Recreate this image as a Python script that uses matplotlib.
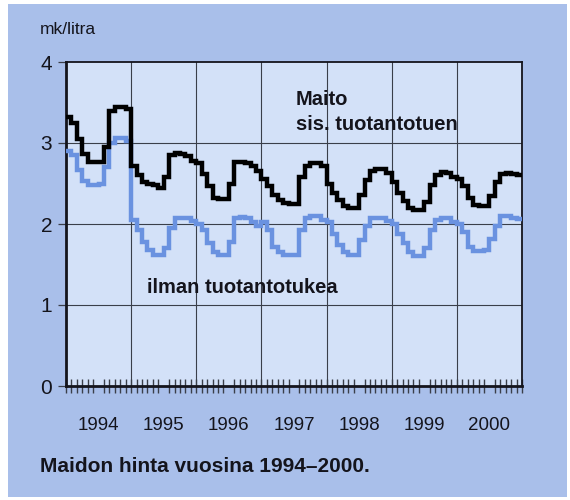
#!/usr/bin/env python3
"""Maidon hinta vuosina 1994-2000 - kuukausittainen porrasviiva"""
import numpy as np
import matplotlib
matplotlib.use('Agg')
import matplotlib.pyplot as plt
from matplotlib.patches import Rectangle

# vuodet ja kuukausihinnat (mk/litra), tammi-joulu
years = ['1994', '1995', '1996', '1997', '1998', '1999', '2000']

maito_tuella = [
    3.32, 3.25, 3.05, 2.87, 2.76, 2.76, 2.76, 2.95, 3.40, 3.45, 3.45, 3.42,
    2.72, 2.60, 2.52, 2.50, 2.48, 2.45, 2.58, 2.85, 2.88, 2.87, 2.84, 2.78,
    2.75, 2.62, 2.47, 2.32, 2.31, 2.31, 2.50, 2.77, 2.77, 2.75, 2.72, 2.65,
    2.56, 2.47, 2.36, 2.30, 2.26, 2.25, 2.25, 2.58, 2.71, 2.75, 2.75, 2.72,
    2.50, 2.38, 2.30, 2.22, 2.20, 2.20, 2.36, 2.54, 2.65, 2.68, 2.68, 2.63,
    2.52, 2.38, 2.28, 2.20, 2.17, 2.17, 2.27, 2.48, 2.60, 2.64, 2.63, 2.58,
    2.55, 2.47, 2.32, 2.23, 2.22, 2.22, 2.35, 2.52, 2.62, 2.63, 2.62, 2.60,
]

maito_ilman = [
    2.90, 2.85, 2.67, 2.53, 2.48, 2.48, 2.50, 2.70, 3.00, 3.06, 3.06, 3.02,
    2.05, 1.92, 1.78, 1.68, 1.62, 1.62, 1.70, 1.95, 2.08, 2.08, 2.07, 2.04,
    2.00, 1.92, 1.76, 1.66, 1.62, 1.62, 1.78, 2.07, 2.09, 2.07, 2.03, 1.97,
    2.03, 1.92, 1.72, 1.65, 1.62, 1.62, 1.62, 1.92, 2.07, 2.10, 2.10, 2.05,
    2.02, 1.88, 1.74, 1.66, 1.62, 1.62, 1.80, 1.97, 2.07, 2.08, 2.08, 2.04,
    2.00, 1.88, 1.76, 1.65, 1.60, 1.60, 1.70, 1.93, 2.05, 2.08, 2.08, 2.02,
    2.00, 1.90, 1.72, 1.67, 1.67, 1.68, 1.82, 1.97, 2.10, 2.10, 2.08, 2.06,
]

yticks = [0, 1, 2, 3, 4]

# värit
PANEL = '#a9bfea'
PLOT_BG = '#d3e1f8'
BLUE = '#6a92e0'
INK = '#14141c'

plt.rcParams['font.family'] = ['Liberation Sans', 'DejaVu Sans']

fig = plt.figure(figsize=(5.7, 5.0), dpi=100)
fig.patch.set_facecolor('white')
# sininen taustapaneeli
fig.patches.append(Rectangle((8 / 570, 3 / 500), 559 / 570, 493 / 500,
                             transform=fig.transFigure, facecolor=PANEL,
                             edgecolor='none', zorder=-10))

ax = fig.add_axes([66 / 570, 114 / 500, 456 / 570, 324 / 500])
ax.set_zorder(5)
ax.set_facecolor(PLOT_BG)

n_months = len(maito_tuella)
edges = np.arange(n_months + 1)

# ruudukko
for k in range(1, len(years)):
    ax.axvline(12 * k, color='#3a3f4a', lw=0.8, zorder=1)
for v in yticks[1:-1]:
    ax.axhline(v, color='#3a3f4a', lw=0.8, zorder=1)

ax.stairs(maito_ilman, edges, baseline=None, color=BLUE, lw=3.2,
          joinstyle='miter', zorder=3)
ax.stairs(maito_tuella, edges, baseline=None, color='black', lw=3.2,
          joinstyle='miter', zorder=4)

ax.set_xlim(0, n_months)
ax.set_ylim(0, 4)

# akselit ja merkinnät
ax.set_yticks(yticks)
ax.set_yticklabels([str(v) for v in yticks], fontsize=15, color=INK)
ax.tick_params(axis='y', direction='out', length=6, width=0.9, pad=4,
               color='#3a3f4a')

ax.set_xticks([12 * k + 6 for k in range(len(years))])
ax.set_xticklabels(years, fontsize=13.5, color=INK)
ax.set_xticks(edges, minor=True)
ax.tick_params(axis='x', which='major', length=0, pad=22)
ax.tick_params(axis='x', which='minor', direction='inout', length=10,
               width=1.0, color='#3a3f4a')

for side in ['left', 'bottom']:
    ax.spines[side].set_linewidth(2.0)
for side in ['top', 'right']:
    ax.spines[side].set_linewidth(1.3)
for sp in ax.spines.values():
    sp.set_color(INK)

# tekstit
fig.text(40 / 570, 1 - 30 / 500, 'mk/litra', fontsize=12.5, color=INK,
         va='center', ha='left')
ax.text(0.504, 0.846, 'Maito\nsis. tuotantotuen', transform=ax.transAxes,
        fontsize=14.5, fontweight='bold', color=INK, ha='left', va='center',
        linespacing=1.45)
ax.text(0.177, 0.303, 'ilman tuotantotukea', transform=ax.transAxes,
        fontsize=14.5, fontweight='bold', color=INK, ha='left', va='center')
fig.text(40 / 570, 1 - 466 / 500, 'Maidon hinta vuosina 1994\u20132000.',
         fontsize=15, fontweight='bold', color=INK, ha='left', va='center')

fig.savefig('out.png', dpi=100, facecolor=fig.get_facecolor())
